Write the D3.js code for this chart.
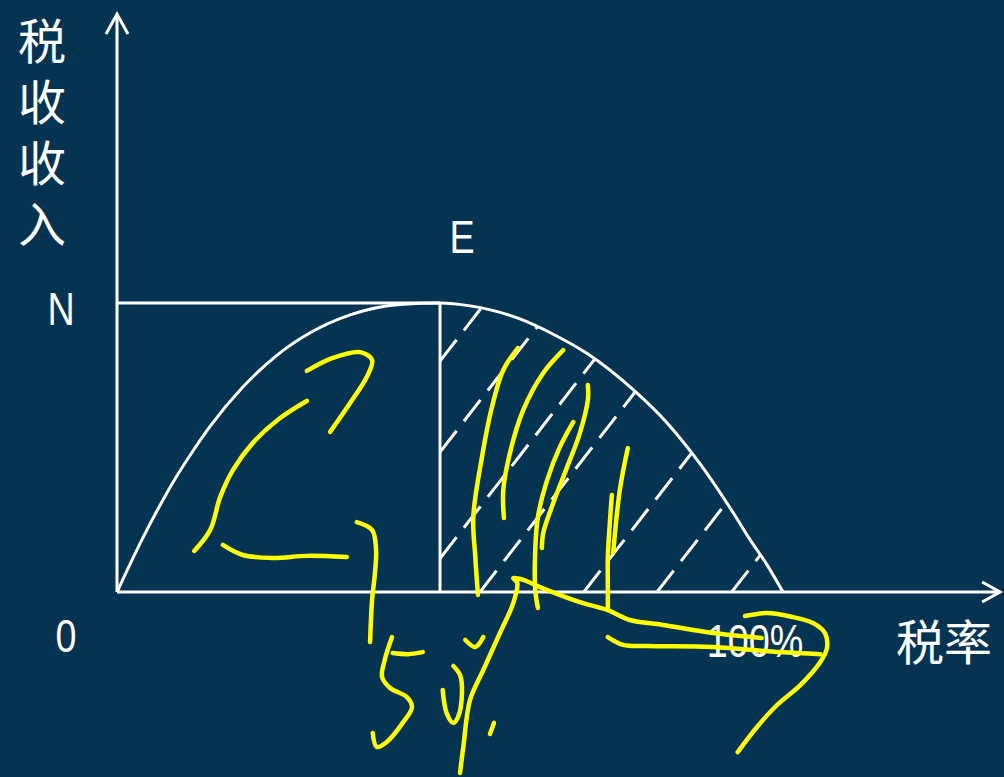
<!DOCTYPE html>
<html><head><meta charset="utf-8">
<script src="https://cdn.jsdelivr.net/npm/d3@7"></script>
<style>html,body{margin:0;padding:0;background:#043452;overflow:hidden}</style>
</head><body><svg id="c" width="1004" height="777"></svg>
<script>
// ---- data (tax rate %, tax revenue with N = 100) ----
const rate    = [0,3.9,6.5,9.0,11.4,14.0,18.9,24.0,29.0,35.0,42.5,48.5,53.0,60.5,65.5,70.6,77.5,82.6,87.5,92.5,95.0,97.6,100];
const revenue = [0,18.8,30.2,40.2,48.8,57.4,70.9,81.9,89.7,95.9,99.5,100,99.0,94.5,89.2,82.5,70.0,58.5,44.5,27.5,18.3,9.4,0];
const peakRate = 48.5, peakRevenue = 100;
const xAxisMax = 132.6, yAxisMax = 200;
const hatchIntercepts = [21.6,32.2,44.6,54.5,70.1,81.1,92.3];
const hatchRise = 2.97;
const yTitle = "税收收入";
const xTitle = "税率";
const originLabel = "0", peakLabel = "N", pointLabel = "E", fullRateLabel = "100%";

// handwritten yellow annotations (same data units)
const ink1 = [[28.5,76.5],[32.4,81.0],[36.5,83.0],[38.3,80.3],[37.5,74.4],[35.0,65.4],[32.0,55.4]];
const ink2 = [[28.5,66.1],[24.5,60.2],[20.4,51.6],[17.4,42.2],[15.5,32.9],[14.0,21.5],[11.6,14.2]];
const ink3 = [[15.9,16.3],[18.9,12.8],[23.4,11.8],[28.5,12.5],[34.5,12.1]];
const ink4 = [[36.0,24.2],[38.3,21.5],[38.9,14.5],[38.7,5.9],[38.3,-2.8],[38.0,-17.3]];
const inkFive = [[41.3,-15.6],[40.2,-23.5],[39.8,-29.4],[41.0,-33.2],[43.5,-36.3],[44.3,-39.8],[42.9,-45.3],[40.5,-51.9],[39.0,-53.6],[38.4,-48.8]];
const inkFiveBar = [[41.4,-21.1],[43.7,-21.5],[45.9,-20.8]];
const inkZero = [[50.5,-25.6],[51.5,-28.7],[51.8,-34.9],[51.2,-43.3],[50.5,-45.3],[49.5,-41.9],[48.9,-33.9]];
const inkTick = [[52.3,-16.6],[53.8,-19.0],[55.0,-15.6]];
const inkDot = [[56.6,-45.3],[56.0,-49.1]];
const inkArrow = [[51.5,-62.6],[52.0,-53.6],[53.0,-37.4],[55.0,-27.0],[57.5,-14.2],[59.5,-3.8],[60.1,3.1],[59.5,4.8],[61.0,4.2],[63.5,1.7],[69.5,-3.5],[73.6,-6.2],[77.0,-9.7],[82.0,-11.4],[89.5,-14.2],[96.8,-15.9]];
const inkLower = [[73.7,-15.6],[76.0,-18.3],[79.6,-18.7],[89.5,-19.0],[99.5,-20.8],[105.6,-21.5]];
const inkLoop = [[94.3,-8.3],[97.6,-7.3],[101.5,-8.7],[104.5,-10.7],[106.3,-14.2],[106.6,-19.4],[105.6,-24.2],[102.6,-32.2],[99.1,-39.1],[96.1,-46.7],[93.2,-55.4]];
const inkY1 = [[60.2,84.4],[58.0,76.8],[56.3,64.0],[54.8,46.7],[53.5,26.0],[53.8,12.1],[54.2,-1.0]];
const inkY2 = [[67.0,83.7],[64.0,75.8],[61.0,63.0],[59.0,48.1],[58.0,35.3],[58.1,25.6]];
const inkY3 = [[70.7,71.6],[70.7,66.4],[69.5,55.0],[67.6,43.3],[65.5,30.8],[64.0,20.4],[63.8,15.2]];
const inkY3b = [[68.5,58.8],[66.5,50.2],[64.6,38.8],[63.2,26.0],[62.8,14.5],[62.8,0.7],[63.2,-5.5]];
const inkY4 = [[76.7,49.8],[75.5,35.3],[74.5,13.5]];
const inkY5 = [[74.3,33.6],[74.0,23.9],[73.7,12.1],[73.7,0.7],[73.7,-6.2]];

// ---- drawing ----
const svg = d3.select("#c");
const WHITE = "#ffffff", YELLOW = "#ffff00";
svg.append("rect").attr("width",1004).attr("height",777).attr("fill","#043452");

const x = d3.scaleLinear().domain([0,100]).range([117,783]);
const y = d3.scaleLinear().domain([0,100]).range([592,303]);

const curveData = rate.map((r,i)=>[r,revenue[i]]);
const line = d3.line().x(d=>x(d[0])).y(d=>y(d[1]));
const smooth = d3.line().x(d=>x(d[0])).y(d=>y(d[1])).curve(d3.curveMonotoneX);

// clip region under the curve
const defs = svg.append("defs");
defs.append("clipPath").attr("id","under").append("path")
  .attr("d", d3.area().x(d=>x(d[0])).y0(y(0)).y1(d=>y(d[1])).curve(d3.curveMonotoneX)(curveData));

// hatching
const hatch = svg.append("g").attr("clip-path","url(#under)");
hatchIntercepts.forEach(x0=>{
  const start = x0 < peakRate ? [peakRate, hatchRise*(peakRate-x0)] : [x0, 0];
  const end = [x0 + 120/hatchRise, 120];
  hatch.append("path").attr("d", line([start,end]))
    .attr("fill","none").attr("stroke",WHITE).attr("stroke-width",3)
    .attr("stroke-dasharray","27,12");
});

const g = svg.append("g").attr("fill","none").attr("stroke",WHITE).attr("stroke-width",3);
// axes
g.append("path").attr("d", line([[0,0],[0,yAxisMax]]));
g.append("path").attr("d", line([[0,0],[xAxisMax,0]]));
// arrowheads
const ty = y(yAxisMax), tx = x(xAxisMax);
g.append("path").attr("d", `M${x(0)-11},${ty+20}L${x(0)},${ty}L${x(0)+11},${ty+20}`);
g.append("path").attr("d", `M${tx-18},${y(0)-10}L${tx},${y(0)}L${tx-18},${y(0)+10}`);
// N line & vertical line at peak
g.append("path").attr("d", line([[0,peakRevenue],[peakRate,peakRevenue]]));
g.append("path").attr("d", line([[peakRate,0],[peakRate,peakRevenue]]));
// Laffer curve
g.append("path").attr("d", smooth(curveData));

// text
const cjk = "'Noto Sans CJK SC', sans-serif";
const latin = "'Liberation Sans', Arial, sans-serif";
svg.append("text").text(yTitle).attr("x",42).attr("y", y(yAxisMax)+3)
  .style("writing-mode","vertical-rl").style("letter-spacing","13px")
  .attr("font-family",cjk).attr("font-size",48).attr("fill",WHITE);
svg.append("text").text(xTitle).attr("x",944).attr("y",y(0)+47)
  .attr("text-anchor","middle").attr("dominant-baseline","central")
  .attr("font-family",cjk).attr("font-size",48).attr("fill",WHITE);
const lab = (t,px,py)=>svg.append("text").text(t)
  .attr("transform",`translate(${px},${py}) scale(0.82,1)`)
  .attr("text-anchor","middle").attr("font-family",latin).attr("font-size",46).attr("fill",WHITE);
lab(peakLabel, x(0)-56, y(peakRevenue)+22);
lab(pointLabel, x(peakRate)+22, y(peakRevenue)-50);
lab(originLabel, x(0)-51, y(0)+60);
lab(fullRateLabel, x(100)-28, y(0)+65);

// yellow ink
const inkStrokes = [ink1,ink2,ink3,ink4,inkFive,inkFiveBar,inkZero,inkTick,inkDot,inkArrow,inkLower,inkLoop,inkY1,inkY2,inkY3,inkY3b,inkY4,inkY5];
const inkLine = d3.line().x(d=>x(d[0])).y(d=>y(d[1])).curve(d3.curveCatmullRom.alpha(0.5));
svg.append("g").selectAll("path").data(inkStrokes).join("path")
  .attr("d", inkLine).attr("fill","none").attr("stroke",YELLOW)
  .attr("stroke-width",4.5).attr("stroke-linecap","round").attr("stroke-linejoin","round");
</script></body></html>
